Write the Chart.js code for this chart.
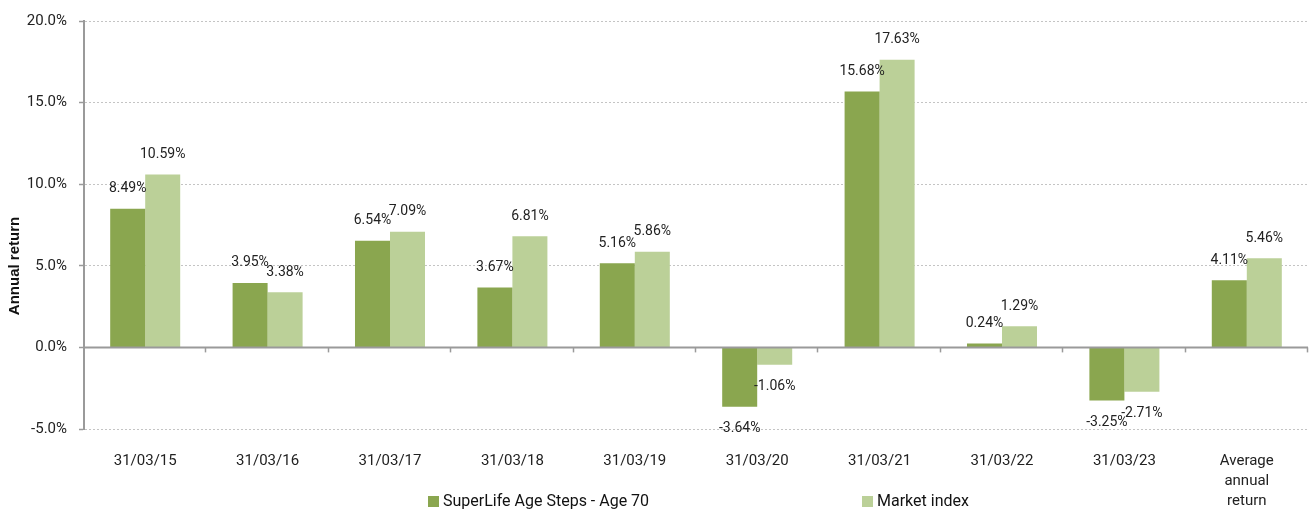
<!DOCTYPE html>
<html>
<head>
<meta charset="utf-8">
<script src="https://cdn.jsdelivr.net/npm/chart.js@4/dist/chart.umd.min.js"></script>
<style>
  html, body { margin: 0; padding: 0; background: #fff; }
  #wrap { position: relative; width: 1315px; height: 514px; }
  #legenda { position: absolute; top: 490px; left: 0; width: 1315px; height: 22px;
    font-family: Roboto, sans-serif; font-size: 16px; color: #111; }
  .item { position: absolute; top: 0; white-space: nowrap; line-height: 22px; }
  .box { display: inline-block; width: 11px; height: 11px; margin-right: 4px; vertical-align: -1px; }
</style>
</head>
<body>
<div id="wrap">
  <canvas id="grafico" width="1315" height="514"></canvas>
  <div id="legenda"></div>
</div>
<script>
// Dados
const categorias = ["31/03/15", "31/03/16", "31/03/17", "31/03/18", "31/03/19",
  "31/03/20", "31/03/21", "31/03/22", "31/03/23", ["Average", "annual", "return"]];
const superLife = [8.49, 3.95, 6.54, 3.67, 5.16, -3.64, 15.68, 0.24, -3.25, 4.11];
const mercado = [10.59, 3.38, 7.09, 6.81, 5.86, -1.06, 17.63, 1.29, -2.71, 5.46];
const nomesSeries = ["SuperLife Age Steps - Age 70", "Market index"];
const coresSeries = ["#8aa64f", "#bbd098"];
const ticksY = [-5, 0, 5, 10, 15, 20];
const tituloY = "Annual return";

// Rótulos de valor, linha do zero e título do eixo Y
const rotulosPlugin = {
  id: "rotulos",
  afterDatasetsDraw(chart) {
    const ctx = chart.ctx;
    const y = chart.scales.y;
    const x = chart.scales.x;
    const zero = y.getPixelForValue(0);

    // linha do zero e marcas das categorias
    ctx.save();
    ctx.strokeStyle = "#9a9a9a";
    ctx.lineWidth = 2;
    ctx.beginPath();
    ctx.moveTo(chart.chartArea.left, zero);
    ctx.lineTo(chart.chartArea.right, zero);
    ctx.stroke();
    ctx.lineWidth = 1.5;
    const largura = (x.right - x.left) / categorias.length;
    for (let i = 1; i <= categorias.length; i++) {
      const px = Math.round(x.left + largura * i) - 0.5;
      ctx.beginPath();
      ctx.moveTo(px, zero);
      ctx.lineTo(px, zero + 5);
      ctx.stroke();
    }

    ctx.font = "14px Roboto, sans-serif";
    ctx.fillStyle = "#222";
    ctx.textAlign = "center";
    ctx.textBaseline = "middle";
    chart.data.datasets.forEach((ds, di) => {
      const meta = chart.getDatasetMeta(di);
      meta.data.forEach((bar, i) => {
        const v = ds.data[i];
        const py = v >= 0 ? bar.y - 20 : bar.y + 22;
        ctx.fillText(v.toFixed(2) + "%", bar.x, py);
      });
    });

    // título do eixo Y (um pouco abaixo do centro, como no original)
    ctx.translate(15, 266);
    ctx.rotate(-Math.PI / 2);
    ctx.font = "bold 15px 'Liberation Sans', Arial, sans-serif";
    ctx.fillStyle = "#111";
    ctx.fillText(tituloY, 0, 0);
    ctx.restore();
  }
};

new Chart(document.getElementById("grafico"), {
  type: "bar",
  data: {
    labels: categorias,
    datasets: [
      { label: nomesSeries[0], data: superLife, backgroundColor: coresSeries[0] },
      { label: nomesSeries[1], data: mercado, backgroundColor: coresSeries[1] }
    ]
  },
  options: {
    responsive: false,
    animation: false,
    layout: { padding: { left: 0, right: 7, top: 2, bottom: 2 } },
    categoryPercentage: 0.572,
    barPercentage: 1,
    plugins: {
      legend: { display: false },
      tooltip: { enabled: false }
    },
    scales: {
      x: {
        afterFit(scale) { scale.height = 83; },
        grid: { display: false, drawTicks: false },
        border: { display: false },
        ticks: {
          color: "#222",
          font: { family: "Roboto, sans-serif", size: 15, lineHeight: 1.33 },
          padding: 22,
          maxRotation: 0,
          autoSkip: false
        }
      },
      y: {
        min: -5,
        max: 20,
        afterFit(scale) { scale.width = 84; },
        afterBuildTicks(scale) { scale.ticks = ticksY.map(v => ({ value: v })); },
        grid: {
          color: ctx => (ctx.tick && ctx.tick.value === 0) ? "rgba(0,0,0,0)" : "#c4c4c4",
          lineWidth: 1,
          tickColor: "#9a9a9a",
          tickLength: 5,
          tickWidth: 1.5,
          tickBorderDash: []
        },
        border: { display: true, color: "#9a9a9a", width: 2, dash: [2, 2] },
        ticks: {
          color: "#222",
          font: { family: "Roboto, sans-serif", size: 15 },
          padding: 12,
          callback: v => v.toFixed(1) + "%"
        }
      }
    }
  },
  plugins: [rotulosPlugin]
});

// Legenda em HTML (itens bem espaçados como no original)
const legenda = document.getElementById("legenda");
const posicoes = [428, 862];
nomesSeries.forEach((nome, i) => {
  const item = document.createElement("div");
  item.className = "item";
  item.style.left = posicoes[i] + "px";
  item.innerHTML = `<span class="box" style="background:${coresSeries[i]}"></span>${nome}`;
  legenda.appendChild(item);
});
</script>
</body>
</html>
